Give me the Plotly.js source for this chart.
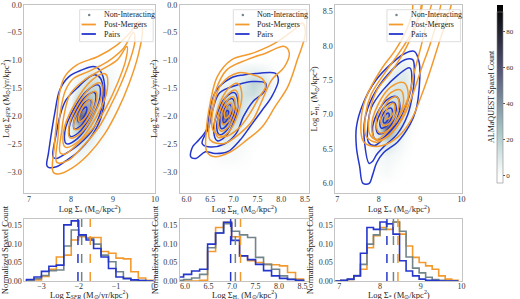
<!DOCTYPE html>
<html><head><meta charset="utf-8">
<script src="https://cdn.plot.ly/plotly-3.0.1.min.js"></script>
<style>html,body{margin:0;padding:0;background:#fff}#plot{width:520px;height:299px}</style>
</head><body><div id="plot"></div>
<script>
// ================= DATA =================
const groupNames = ['Non-Interacting', 'Post-Mergers', 'Pairs'];

// Non-interacting spaxel counts (2D) per panel
const dens1_x = [7.6,7.8,8.0,8.2,8.4,8.6,8.8,9.0,9.2];
const dens1_y = [-3.0,-2.8,-2.6,-2.4,-2.2,-2.0,-1.8,-1.6,-1.4,-1.2,-1.0];
const dens1_z = [
 [0,0,0,0,0,0,0,0,0],
 [0,0,2,3,2,0,0,0,0],
 [0,1,4,8,5,2,0,0,0],
 [0,2,8,18,14,5,1,0,0],
 [0,2,10,35,30,10,3,0,0],
 [0,1,10,80,50,18,5,1,0],
 [0,0,6,40,45,25,8,2,0],
 [0,0,3,18,30,25,10,3,0],
 [0,0,1,8,18,18,8,3,0],
 [0,0,0,3,8,10,5,2,0],
 [0,0,0,0,0,0,0,0,0]];
const dens2_x = [6.2,6.4,6.6,6.8,7.0,7.2,7.4,7.6,7.8,8.0];
const dens2_y = [-3.0,-2.8,-2.6,-2.4,-2.2,-2.0,-1.8,-1.6,-1.4,-1.2,-1.0];
const dens2_z = [
 [0,0,0,0,0,0,0,0,0,0],
 [0,0,1,2,2,1,0,0,0,0],
 [0,1,3,5,4,2,0,0,0,0],
 [0,2,6,12,8,3,1,0,0,0],
 [0,2,10,30,15,5,2,0,0,0],
 [0,1,12,80,30,10,4,1,0,0],
 [0,0,8,45,30,15,8,3,0,0],
 [0,0,3,15,18,18,20,12,2,0],
 [0,0,1,5,10,15,25,20,5,0],
 [0,0,0,1,4,8,10,8,3,0],
 [0,0,0,0,0,0,0,0,0,0]];
const dens3_x = [7.6,7.8,8.0,8.2,8.4,8.6,8.8,9.0];
const dens3_y = [6.0,6.2,6.4,6.6,6.8,7.0,7.2,7.4,7.6,7.8,8.0];
const dens3_z = [
 [0,0,0,0,0,0,0,0],
 [0,0,2,3,1,0,0,0],
 [0,1,4,6,3,1,0,0],
 [0,2,10,18,10,3,0,0],
 [0,3,20,75,30,8,1,0],
 [0,2,15,45,35,12,3,0],
 [0,1,6,15,20,15,5,0],
 [0,0,2,8,15,15,6,0],
 [0,0,1,4,10,12,5,0],
 [0,0,0,1,3,5,2,0],
 [0,0,0,0,0,0,0,0]];

// KDE contour rings [x, y]
const pmRings1 = [
 [[7.57,-3.0],[7.60,-2.55],[7.66,-2.05],[7.72,-1.6],[7.85,-1.29],[8.14,-1.08],[8.64,-0.93],[9.10,-0.72],[9.40,-0.51],[9.62,-0.30],[9.70,-0.45],[9.60,-0.90],[9.38,-1.42],[9.12,-1.88],[8.80,-2.32],[8.41,-2.69],[8.03,-2.93],[7.70,-3.04]],
 [[7.66,-2.83],[7.69,-2.37],[7.74,-1.95],[7.86,-1.55],[8.05,-1.33],[8.41,-1.20],[8.87,-1.02],[9.25,-0.78],[9.48,-0.50],[9.52,-0.65],[9.40,-1.0],[9.20,-1.40],[8.95,-1.80],[8.66,-2.20],[8.26,-2.56],[7.92,-2.80]],
 [[7.74,-2.66],[7.78,-2.25],[7.84,-1.95],[7.98,-1.60],[8.30,-1.36],[8.72,-1.17],[9.10,-0.99],[9.33,-0.75],[9.30,-1.00],[9.10,-1.42],[8.85,-1.82],[8.52,-2.22],[8.12,-2.52],[7.86,-2.68]],
 [[8.820,-1.244],[8.862,-1.519],[8.599,-2.017],[8.184,-2.447],[7.860,-2.556],[7.818,-2.281],[8.081,-1.783],[8.496,-1.353]],
 [[8.700,-1.408],[8.732,-1.614],[8.534,-1.988],[8.223,-2.310],[7.980,-2.392],[7.948,-2.186],[8.146,-1.812],[8.457,-1.490]],
 [[8.590,-1.559],[8.611,-1.702],[8.475,-1.961],[8.259,-2.184],[8.090,-2.241],[8.069,-2.098],[8.205,-1.839],[8.421,-1.616]],
 [[8.484,-1.703],[8.497,-1.786],[8.418,-1.935],[8.293,-2.064],[8.196,-2.097],[8.183,-2.014],[8.262,-1.865],[8.387,-1.736]]];
const prRings1 = [
 [[7.42,-2.88],[7.46,-2.67],[7.53,-2.31],[7.61,-1.95],[7.73,-1.53],[7.95,-1.29],[8.26,-1.17],[8.53,-1.11],[8.64,-1.14],[8.76,-1.29],[8.80,-1.65],[8.70,-2.05],[8.45,-2.40],[8.18,-2.63],[7.88,-2.80],[7.65,-2.91],[7.46,-2.92]],
 [[7.57,-2.73],[7.65,-2.31],[7.73,-2.01],[7.88,-1.71],[8.18,-1.47],[8.53,-1.26],[8.70,-1.32],[8.75,-1.75],[8.55,-2.20],[8.20,-2.50],[7.88,-2.67],[7.65,-2.76]],
 [[8.654,-1.445],[8.688,-1.665],[8.477,-2.064],[8.145,-2.408],[7.886,-2.495],[7.852,-2.275],[8.063,-1.876],[8.395,-1.532]],
 [[8.558,-1.576],[8.583,-1.741],[8.425,-2.040],[8.176,-2.298],[7.982,-2.364],[7.957,-2.199],[8.115,-1.900],[8.364,-1.642]],
 [[8.462,-1.708],[8.479,-1.818],[8.374,-2.017],[8.208,-2.189],[8.078,-2.232],[8.061,-2.122],[8.166,-1.923],[8.332,-1.751]],
 [[8.366,-1.839],[8.374,-1.894],[8.322,-1.993],[8.239,-2.079],[8.174,-2.101],[8.166,-2.046],[8.218,-1.947],[8.301,-1.861]]];

const pmRings2 = [
 [[6.43,-2.64],[6.42,-2.25],[6.50,-1.77],[6.65,-1.29],[6.95,-0.99],[7.40,-0.87],[7.87,-0.69],[8.27,-0.45],[8.45,-0.33],[8.51,-0.51],[8.34,-0.99],[8.14,-1.47],[7.87,-1.83],[7.60,-2.19],[7.27,-2.43],[6.93,-2.64],[6.60,-2.73]],
 [[6.50,-2.43],[6.50,-2.01],[6.62,-1.53],[6.85,-1.17],[7.27,-0.99],[7.67,-0.87],[8.07,-0.75],[8.17,-0.87],[8.07,-1.11],[7.80,-1.35],[7.60,-1.71],[7.40,-2.07],[7.13,-2.31],[6.80,-2.49]],
 [[6.56,-2.25],[6.57,-1.83],[6.75,-1.41],[7.10,-1.22],[7.40,-1.26],[7.60,-1.33],[7.67,-1.47],[7.54,-1.65],[7.34,-1.95],[7.10,-2.22],[6.80,-2.37]],
 [[7.083,-1.414],[7.168,-1.604],[7.084,-1.968],[6.881,-2.292],[6.677,-2.386],[6.592,-2.196],[6.676,-1.832],[6.879,-1.508]],
 [[7.033,-1.533],[7.098,-1.676],[7.034,-1.951],[6.881,-2.196],[6.727,-2.267],[6.662,-2.124],[6.726,-1.849],[6.879,-1.604]],
 [[6.984,-1.652],[7.027,-1.749],[6.984,-1.935],[6.880,-2.100],[6.776,-2.148],[6.733,-2.051],[6.776,-1.865],[6.880,-1.700]],
 [[6.936,-1.765],[6.960,-1.818],[6.937,-1.919],[6.880,-2.009],[6.824,-2.035],[6.800,-1.982],[6.823,-1.881],[6.880,-1.791]]];
const prRings2 = [
 [[6.09,-2.73],[6.13,-2.55],[6.26,-2.43],[6.42,-2.25],[6.48,-1.95],[6.62,-1.55],[6.93,-1.32],[7.20,-1.26],[7.54,-1.23],[7.87,-1.23],[7.94,-1.35],[7.80,-1.65],[7.60,-1.89],[7.34,-2.19],[7.13,-2.43],[6.87,-2.64],[6.60,-2.67],[6.40,-2.64],[6.20,-2.76]],
 [[6.33,-2.49],[6.47,-2.2],[6.55,-1.9],[6.70,-1.58],[7.07,-1.44],[7.40,-1.38],[7.67,-1.41],[7.64,-1.56],[7.40,-1.74],[7.20,-2.01],[7.05,-2.31],[6.80,-2.50],[6.46,-2.55]],
 [[7.010,-1.578],[7.086,-1.747],[7.012,-2.070],[6.831,-2.358],[6.650,-2.442],[6.574,-2.273],[6.648,-1.950],[6.829,-1.662]],
 [[6.965,-1.686],[7.022,-1.813],[6.966,-2.055],[6.831,-2.271],[6.695,-2.334],[6.638,-2.207],[6.694,-1.965],[6.829,-1.749]],
 [[6.920,-1.794],[6.958,-1.878],[6.921,-2.040],[6.830,-2.184],[6.740,-2.226],[6.702,-2.142],[6.739,-1.980],[6.830,-1.836]],
 [[6.875,-1.902],[6.894,-1.944],[6.875,-2.025],[6.830,-2.097],[6.785,-2.118],[6.766,-2.076],[6.785,-1.995],[6.830,-1.923]]];

const pmRings3 = [
 [[7.62,6.62],[7.58,6.97],[7.70,7.26],[8.05,7.65],[8.40,7.94],[8.63,8.18],[8.80,8.45],[8.90,8.75],[9.75,8.75],[9.64,8.38],[9.48,8.09],[9.25,7.65],[9.02,7.26],[8.78,6.92],[8.47,6.68],[8.09,6.55],[7.77,6.55]],
 [[7.70,6.68],[7.68,7.0],[7.82,7.3],[8.16,7.62],[8.47,7.88],[8.78,8.18],[9.0,8.5],[9.1,8.75],[9.5,8.75],[9.41,8.38],[9.25,8.04],[9.02,7.65],[8.80,7.26],[8.58,6.95],[8.28,6.72],[7.95,6.6]],
 [[7.78,6.72],[7.78,7.02],[7.95,7.35],[8.30,7.62],[8.55,7.85],[8.80,8.15],[9.02,8.5],[9.12,8.75],[9.3,8.75],[9.17,8.38],[9.02,7.99],[8.85,7.6],[8.72,7.26],[8.5,6.98],[8.2,6.75],[7.95,6.64]],
 [[8.606,7.465],[8.713,7.278],[8.561,6.958],[8.238,6.692],[7.934,6.635],[7.827,6.822],[7.979,7.142],[8.302,7.408]],
 [[8.522,7.361],[8.602,7.221],[8.488,6.981],[8.246,6.781],[8.018,6.739],[7.938,6.879],[8.052,7.119],[8.294,7.319]],
 [[8.438,7.258],[8.492,7.164],[8.416,7.004],[8.254,6.871],[8.102,6.842],[8.048,6.936],[8.124,7.096],[8.286,7.229]],
 [[8.361,7.162],[8.390,7.112],[8.349,7.025],[8.261,6.953],[8.179,6.938],[8.150,6.988],[8.191,7.075],[8.279,7.147]]];
const prRings3 = [
 [[7.62,6.00],[7.54,6.24],[7.46,6.53],[7.46,6.82],[7.62,7.16],[7.93,7.50],[8.32,7.75],[8.63,7.89],[8.86,7.92],[8.98,7.75],[8.98,7.41],[8.90,7.07],[8.75,6.85],[8.45,6.60],[8.12,6.45],[7.95,6.30],[7.85,6.12],[7.77,6.00]],
 [[7.77,6.29],[7.66,6.58],[7.66,6.92],[7.85,7.26],[8.24,7.60],[8.63,7.80],[8.82,7.80],[8.86,7.60],[8.82,7.31],[8.70,7.00],[8.45,6.72],[8.15,6.55],[7.95,6.42],[7.85,6.32]],
 [[7.75,6.6],[7.74,6.85],[7.82,7.1],[8.09,7.35],[8.47,7.58],[8.75,7.68],[8.80,7.5],[8.68,7.16],[8.45,6.88],[8.15,6.68],[7.9,6.55]],
 [[8.432,7.261],[8.512,7.121],[8.398,6.881],[8.156,6.681],[7.928,6.639],[7.848,6.779],[7.962,7.019],[8.204,7.219]],
 [[8.365,7.178],[8.424,7.075],[8.340,6.899],[8.162,6.753],[7.995,6.722],[7.936,6.825],[8.020,7.001],[8.198,7.147]],
 [[8.298,7.095],[8.335,7.030],[8.282,6.918],[8.169,6.825],[8.062,6.805],[8.025,6.870],[8.078,6.982],[8.191,7.075]],
 [[8.237,7.021],[8.255,6.989],[8.229,6.934],[8.175,6.889],[8.123,6.879],[8.105,6.911],[8.131,6.966],[8.185,7.011]]];

// Normalised histograms
const sfrEdges = [-3.4,-3.2,-3.0,-2.8,-2.6,-2.4,-2.2,-2.0,-1.8,-1.6,-1.4,-1.2,-1.0,-0.8,-0.6,-0.4,-0.2,0.0];
const sfrNon  = [0.002,0.006,0.015,0.028,0.03,0.095,0.138,0.123,0.115,0.1,0.07,0.052,0.025,0.008,0.003,0.001,0];
const sfrPM   = [0,0.003,0.012,0.032,0.065,0.07,0.111,0.12,0.118,0.118,0.08,0.075,0.062,0.06,0.025,0.008,0.002];
const sfrPair = [0.004,0.011,0.026,0.04,0.043,0.152,0.163,0.125,0.111,0.088,0.065,0.034,0.011,0.006,0.003,0.001,0];
const sfrMedians = [-1.92, -1.69, -2.02];

const h2Edges = [5.80,5.97,6.14,6.31,6.48,6.65,6.82,6.99,7.16,7.33,7.50,7.67,7.84,8.01,8.18,8.35,8.52];
const h2Non  = [0.002,0.004,0.008,0.018,0.09,0.13,0.155,0.135,0.125,0.118,0.064,0.045,0.032,0.014,0.005,0.001];
const h2PM   = [0,0,0,0.002,0.08,0.145,0.159,0.12,0.068,0.055,0.05,0.045,0.044,0.041,0.023,0.005];
const h2Pair = [0.011,0.018,0.027,0.032,0.1,0.13,0.159,0.11,0.068,0.058,0.045,0.028,0.014,0.007,0.004,0.002];
const h2Medians = [7.07, 7.18, 6.97];

const msEdges = [6.88,7.04,7.20,7.36,7.52,7.68,7.84,8.00,8.16,8.32,8.48,8.64,8.80,8.96,9.12,9.28,9.44,9.60,9.76,9.92];
const msNon  = [0,0.001,0.004,0.015,0.045,0.1,0.125,0.14,0.155,0.16,0.135,0.065,0.035,0.022,0.01,0.004,0.002,0,0];
const msPM   = [0,0.001,0.004,0.014,0.032,0.09,0.123,0.145,0.14,0.16,0.127,0.095,0.064,0.05,0.041,0.032,0.014,0.005,0.002];
const msPair = [0,0.002,0.005,0.014,0.075,0.145,0.14,0.16,0.155,0.127,0.055,0.027,0.014,0.005,0.002,0.001,0,0,0];
const msMedians = [8.33, 8.44, 8.17];

const cbarTicks = [0, 20, 40, 60, 80];

// ================= STYLE =================
const C_NON = '#74858a', C_PM = '#f39a2e', C_PR = '#2436cc';
const FONT = '"Liberation Serif", serif';
const boneR = [[0,'#ffffff'],[0.125,'rgb(214,229,229)'],[0.254,'rgb(172,200,200)'],[0.45,'rgb(123,139,155)'],[0.635,'rgb(81,81,113)'],[0.82,'rgb(40,40,56)'],[1,'#000000']];

const traces = [];
function heat(xs, ys, zs, xa, ya){
  traces.push({type:'heatmap', x:xs, y:ys, z:zs, xaxis:xa, yaxis:ya, coloraxis:'coloraxis',
    zsmooth:'best', opacity:0.72, hoverinfo:'skip', showlegend:false});
}
function rings(list, color, xa, ya){
  list.forEach((r) => {
    const xs = r.map(p => p[0]).concat([r[0][0]]);
    const ys = r.map(p => p[1]).concat([r[0][1]]);
    traces.push({type:'scatter', mode:'lines', x:xs, y:ys, xaxis:xa, yaxis:ya,
      line:{color:color, width:1.5, shape:'spline', smoothing:1}, showlegend:false, hoverinfo:'skip'});
  });
}
function step(edges, vals, color, xa, ya){
  const xs = [edges[0]], ys = [0];
  vals.forEach((v, i) => { xs.push(edges[i]); ys.push(v); });
  xs.push(edges[edges.length-1]); ys.push(0);
  traces.push({type:'scatter', mode:'lines', x:xs, y:ys, xaxis:xa, yaxis:ya,
    line:{color:color, width:1.6, shape:'hv'}, showlegend:false, hoverinfo:'skip'});
}

heat(dens1_x, dens1_y, dens1_z, 'x', 'y');
heat(dens2_x, dens2_y, dens2_z, 'x2', 'y2');
heat(dens3_x, dens3_y, dens3_z, 'x3', 'y3');
rings(prRings1, C_PR, 'x', 'y');   rings(pmRings1, C_PM, 'x', 'y');
rings(prRings2, C_PR, 'x2', 'y2'); rings(pmRings2, C_PM, 'x2', 'y2');
rings(prRings3, C_PR, 'x3', 'y3'); rings(pmRings3, C_PM, 'x3', 'y3');
step(sfrEdges, sfrPM, C_PM, 'x4', 'y4'); step(sfrEdges, sfrNon, C_NON, 'x4', 'y4'); step(sfrEdges, sfrPair, C_PR, 'x4', 'y4');
step(h2Edges, h2PM, C_PM, 'x5', 'y5');   step(h2Edges, h2Non, C_NON, 'x5', 'y5');   step(h2Edges, h2Pair, C_PR, 'x5', 'y5');
step(msEdges, msPM, C_PM, 'x6', 'y6');   step(msEdges, msNon, C_NON, 'x6', 'y6');   step(msEdges, msPair, C_PR, 'x6', 'y6');

const shapes = [], annotations = [];
const medColors = [C_NON, C_PM, C_PR];
[[sfrMedians,'x4','y4'],[h2Medians,'x5','y5'],[msMedians,'x6','y6']].forEach(([meds, xa, ya]) => {
  meds.forEach((m, i) => shapes.push({type:'line', xref:xa, yref:ya+' domain', x0:m, x1:m, y0:0, y1:1,
    line:{color:medColors[i], width:1.5, dash:'dash'}}));
});

// legend boxes (drawn per top panel, offsets in px from the panel's top-right corner)
function legendBox(xa, ya, w, h){
  const fx = (d) => 1 - d / w, fy = (d) => 1 - d / h;
  const xr = xa + ' domain', yr = ya + ' domain';
  shapes.push({type:'rect', xref:xr, yref:yr, x0:fx(79), x1:fx(2), y0:fy(37), y1:fy(5),
    fillcolor:'rgba(255,255,255,0.8)', line:{color:'#d6d6d6', width:0.8}, layer:'above'});
  shapes.push({type:'circle', xref:xr, yref:yr, x0:fx(70.3), x1:fx(67.7), y0:fy(11.6), y1:fy(9),
    fillcolor:C_NON, line:{width:0}, layer:'above'});
  shapes.push({type:'line', xref:xr, yref:yr, x0:fx(77), x1:fx(62), y0:fy(19.8), y1:fy(19.8),
    line:{color:C_PM, width:1.8}, layer:'above'});
  shapes.push({type:'line', xref:xr, yref:yr, x0:fx(77), x1:fx(62), y0:fy(29.3), y1:fy(29.3),
    line:{color:C_PR, width:1.8}, layer:'above'});
  [10.3, 19.8, 29.3].forEach((d, i) => annotations.push({xref:xr, yref:yr, x:fx(56), y:fy(d),
    xanchor:'left', yanchor:'middle', showarrow:false, text:groupNames[i], font:{size:8, color:'#222'}}));
}
legendBox('x', 'y', 137, 188.3);
legendBox('x2', 'y2', 135, 188.3);
legendBox('x3', 'y3', 133, 188.3);

// ================= LAYOUT =================
const SUN = 'M<sub>⊙</sub>';
const tSFR = 'Log Σ<sub><i>SFR</i></sub> ('+SUN+'/yr/kpc<sup>2</sup>)';
const tH2 = 'Log Σ<sub>H₂</sub> ('+SUN+'/kpc<sup>2</sup>)';
const tMS = 'Log Σ<sub>*</sub> ('+SUN+'/kpc<sup>2</sup>)';
// margins l=10, b=12 -> plot area 510 x 287
const PX = (p) => (p - 10) / 510, PY = (p) => (287 - p) / 287;
const colX = [[PX(25), PX(162)], [PX(188), PX(323)], [PX(351), PX(484)]];
const topY = [PY(193), PY(4.7)], botY = [PY(281), PY(219)];

// bottom-row x titles placed just under their tick labels
[['x4', tSFR], ['x5', tH2], ['x6', tMS]].forEach(([xa, t]) => annotations.push({
  xref:xa+' domain', yref:'paper', x:0.5, y:PY(294.5), xanchor:'center', yanchor:'middle',
  showarrow:false, text:t, font:{size:8.5, color:'#222'}}));
// colour-bar title
annotations.push({xref:'paper', yref:'paper', x:PX(514), y:PY(96), xanchor:'center', yanchor:'middle',
  textangle:-90, showarrow:false, text:'ALMaQUEST Spaxel Count', font:{size:8, color:'#222'}});

function ax(dom, range, tickvals, fmt, title, standoff, tls){
  return {domain:dom, range:range, tickvals:tickvals, tickformat:fmt, showgrid:false, zeroline:false,
    showline:true, mirror:true, linecolor:'#c4c4c4', linewidth:1, ticks:'', ticklen:0,
    ticklabelstandoff:tls || 0, tickfont:{size:8, color:'#333'}, automargin:false,
    title:{text:title, font:{size:8.5, color:'#222'}, standoff:standoff}};
}

const layout = {
  width:520, height:299, margin:{l:10, r:0, t:0, b:12}, paper_bgcolor:'#fff', plot_bgcolor:'#fff',
  font:{family:FONT, size:8, color:'#222'}, hovermode:false, showlegend:false,
  xaxis: Object.assign(ax(colX[0], [6.886,10], [7,8,9,10], 'd', tMS, 2, -2), {anchor:'y'}),
  yaxis: Object.assign(ax(topY, [-3.38,0], [0,-0.5,-1,-1.5,-2,-2.5,-3], '.1f', tSFR, 3), {anchor:'x'}),
  xaxis2: Object.assign(ax(colX[1], [5.86,8.58], [6,6.5,7,7.5,8,8.5], '.1f', tH2, 2, -2), {anchor:'y2'}),
  yaxis2: Object.assign(ax(topY, [-3.38,0], [0,-0.5,-1,-1.5,-2,-2.5,-3], '.1f', tSFR, 3), {anchor:'x2'}),
  xaxis3: Object.assign(ax(colX[2], [6.953,10.02], [7,8,9,10], 'd', tMS, 2, -2), {anchor:'y3'}),
  yaxis3: Object.assign(ax(topY, [5.86,8.6], [6,6.5,7,7.5,8,8.5], '.1f', tH2, 3), {anchor:'x3'}),
  xaxis4: Object.assign(ax(colX[0], [-3.46,0.05], [-3,-2,-1,0], 'd', '', 1, -3), {anchor:'y4'}),
  yaxis4: Object.assign(ax(botY, [0,0.168], [0,0.05,0.1,0.15], '.2f', 'Normalized Spaxel Count', 3), {anchor:'x4'}),
  xaxis5: Object.assign(ax(colX[1], [5.89,8.63], [6,6.5,7,7.5,8,8.5], '.1f', '', 1, -3), {anchor:'y5'}),
  yaxis5: Object.assign(ax(botY, [0,0.168], [0,0.05,0.1,0.15], '.2f', 'Normalized Spaxel Count', 3), {anchor:'x5'}),
  xaxis6: Object.assign(ax(colX[2], [6.907,10.02], [7,8,9,10], 'd', '', 1, -3), {anchor:'y6'}),
  yaxis6: Object.assign(ax(botY, [0,0.168], [0,0.05,0.1,0.15], '.2f', 'Normalized Spaxel Count', 3), {anchor:'x6'}),
  coloraxis:{cmin:0, cmax:95, colorscale:boneR,
    colorbar:{xref:'container', yref:'container', x:497/520, xanchor:'left', y:1-183/299, yanchor:'bottom',
      len:178/299, lenmode:'fraction', thickness:6, outlinewidth:0.6, outlinecolor:'#888',
      tickvals:cbarTicks, ticks:'outside', ticklen:2, tickcolor:'#555', tickfont:{size:7, color:'#333'},
      xpad:0, ypad:0}},
  shapes: shapes, annotations: annotations
};

Plotly.newPlot('plot', traces, layout, {displayModeBar:false, staticPlot:true});
</script>
</body></html>
